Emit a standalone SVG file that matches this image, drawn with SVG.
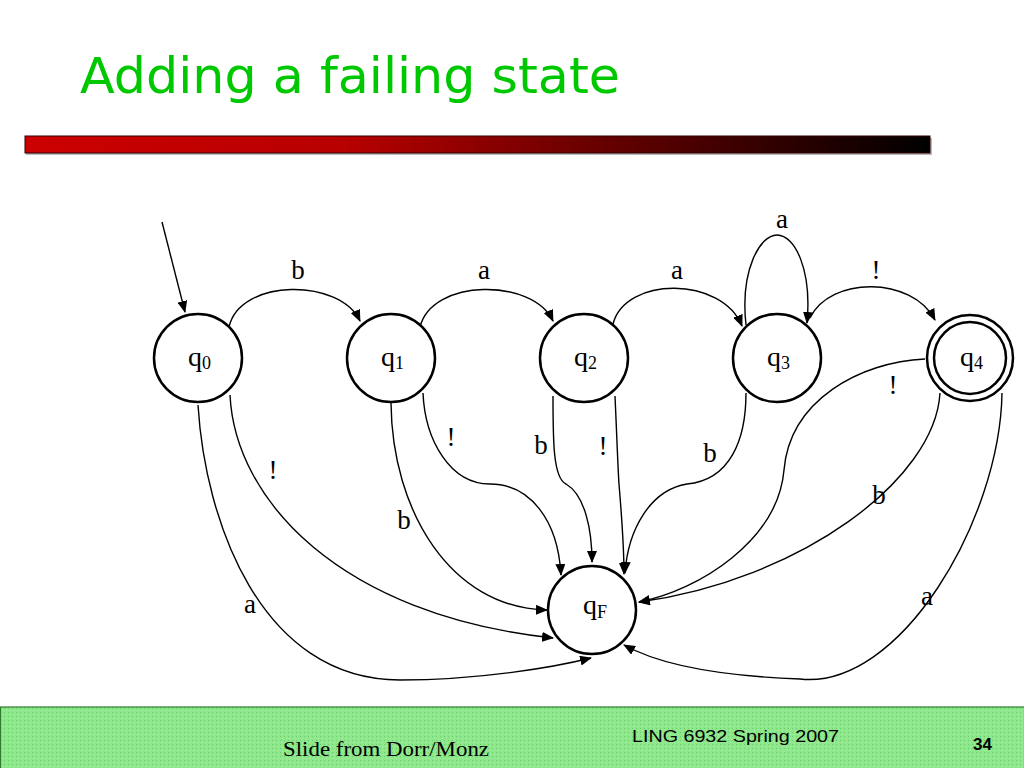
<svg xmlns="http://www.w3.org/2000/svg" width="1024" height="768" viewBox="0 0 1024 768">
<defs>
<linearGradient id="bar" x1="0" y1="0" x2="1" y2="0">
<stop offset="0" stop-color="#CC0000"/>
<stop offset="0.35" stop-color="#B80000"/>
<stop offset="1" stop-color="#000000"/>
</linearGradient>
<pattern id="dots" width="4" height="4" patternUnits="userSpaceOnUse">
<rect width="4" height="4" fill="#8CE88A"/>
<rect x="0" y="0" width="1" height="1" fill="#6CCB6A"/>
<rect x="2" y="2" width="1" height="1" fill="#A6F0A2"/>
</pattern>
<marker id="ah" markerWidth="12" markerHeight="10" refX="11" refY="5" orient="auto" markerUnits="userSpaceOnUse">
<path d="M0,0 L12,5 L0,10 Z" fill="#000"/>
</marker>
<style>
.node{fill:#fff;stroke:#000;stroke-width:2.5}
.edge{fill:none;stroke:#000;stroke-width:1.4;marker-end:url(#ah)}
.lbl{font-family:"Liberation Serif","Times New Roman",serif;font-size:27px;fill:#000;text-anchor:middle}
.st{font-family:"Liberation Serif","Times New Roman",serif;font-size:28px;fill:#000}
.sub{font-size:18px}
</style>
</defs>
<rect width="1024" height="768" fill="#fff"/>
<text x="80" y="93" font-family="'DejaVu Sans',Tahoma,sans-serif" font-size="50" fill="#00C800" textLength="540" lengthAdjust="spacingAndGlyphs">Adding a failing state</text>
<rect x="26" y="138" width="906" height="17" fill="#bbb"/>
<rect x="25" y="136" width="905" height="17" fill="url(#bar)" stroke="#300" stroke-width="1"/>

<g id="connectors">
<path class="edge" d="M162,222 L185,312"/>
<path class="edge" d="M229,327 C240,278 340,278 360,321"/>
<path class="edge" d="M420,327 C432,278 533,278 553,321"/>
<path class="edge" d="M613,324 C625,276 722,276 742,326"/>
<path class="edge" d="M746,325 C740,270 760,235 777,235 C795,235 812,270 807,323"/>
<path class="edge" d="M810,318 C830,276 912,276 935,320"/>
<path class="edge" d="M198,405 C205,520 260,680 400,680 C480,680 555,667 591,658"/>
<path class="edge" d="M230,395 C235,500 340,615 553,638"/>
<path class="edge" d="M391,403 C392,510 450,608 547,610"/>
<path class="edge" d="M423,393 C425,440 450,484 490,484 C530,484 558,520 561,575"/>
<path class="edge" d="M553,396 C553,440 553,478 566,484 C585,495 592,530 592,562"/>
<path class="edge" d="M615,396 C617,440 618,470 619,484 C622,520 624,545 624,574"/>
<path class="edge" d="M746,393 C746,440 730,480 687,484 C650,490 628,530 625,573"/>
<path class="edge" d="M925,359 C860,362 790,400 784,470 C778,540 700,590 639,602"/>
<path class="edge" d="M940,393 C935,480 800,580 639,602"/>
<path class="edge" d="M1002,393 C1000,520 900,690 800,679 C720,676 660,665 624,645"/>
</g>

<g id="labels">
<text class="lbl" x="298" y="279">b</text>
<text class="lbl" x="484" y="279">a</text>
<text class="lbl" x="677" y="279">a</text>
<text class="lbl" x="782" y="228">a</text>
<text class="lbl" x="876" y="279">!</text>
<text class="lbl" x="893" y="394">!</text>
<text class="lbl" x="273" y="479">!</text>
<text class="lbl" x="404" y="529">b</text>
<text class="lbl" x="451" y="446">!</text>
<text class="lbl" x="541" y="454">b</text>
<text class="lbl" x="603" y="455">!</text>
<text class="lbl" x="710" y="462">b</text>
<text class="lbl" x="879" y="504">b</text>
<text class="lbl" x="927" y="605">a</text>
<text class="lbl" x="250" y="613">a</text>
</g>

<g id="q0"><circle class="node" cx="198" cy="358" r="44"/><text class="st" x="188" y="366">q<tspan class="sub" dy="3">0</tspan></text></g>
<g id="q1"><circle class="node" cx="391" cy="358" r="44"/><text class="st" x="381" y="366">q<tspan class="sub" dy="3">1</tspan></text></g>
<g id="q2"><circle class="node" cx="584" cy="358" r="44"/><text class="st" x="574" y="366">q<tspan class="sub" dy="3">2</tspan></text></g>
<g id="q3"><circle class="node" cx="777" cy="358" r="44"/><text class="st" x="767" y="366">q<tspan class="sub" dy="3">3</tspan></text></g>
<g id="q4"><circle class="node" cx="970" cy="358" r="43"/><circle class="node" cx="970" cy="358" r="36" fill="none"/><text class="st" x="960" y="366">q<tspan class="sub" dy="3">4</tspan></text></g>
<g id="qF"><circle class="node" cx="592" cy="610" r="44"/><text class="st" x="583" y="614">q<tspan class="sub" dy="4">F</tspan></text></g>

<g id="footer">
<rect x="0.5" y="707" width="1024" height="62" fill="url(#dots)" stroke="#2E7A2E" stroke-width="1.2"/>
<text x="283" y="756" font-family="'Liberation Serif','Times New Roman',serif" font-size="20" fill="#000" textLength="206" lengthAdjust="spacingAndGlyphs">Slide from Dorr/Monz</text>
<text x="632" y="742" font-family="'Liberation Sans',Arial,sans-serif" font-size="17" fill="#000" textLength="207" lengthAdjust="spacingAndGlyphs">LING 6932 Spring 2007</text>
<text x="973" y="750" font-family="'Liberation Sans',Arial,sans-serif" font-size="17" font-weight="bold" fill="#000">34</text>
</g>
</svg>
